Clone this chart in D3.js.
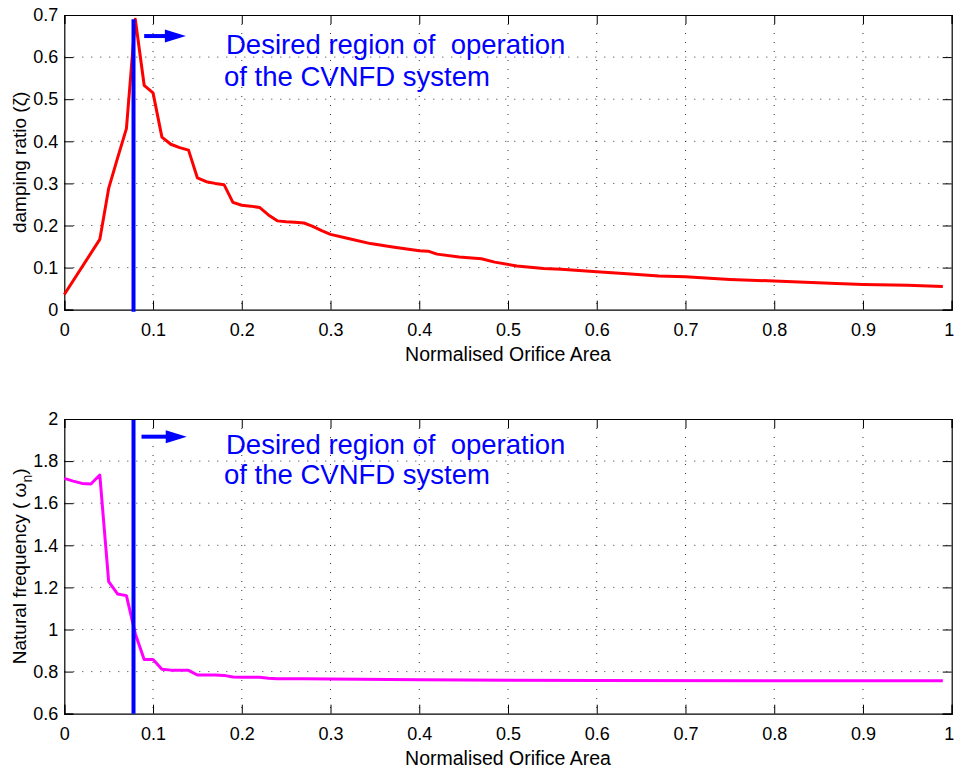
<!DOCTYPE html>
<html>
<head>
<meta charset="utf-8">
<script src="https://cdn.jsdelivr.net/npm/d3@7"></script>
<style>
  body { margin: 0; background: #fff; }
  svg { display: block; font-family: "Liberation Sans", Arial, sans-serif; }
</style>
</head>
<body>
<div id="chart"></div>
<script>
// damping ratio vs normalised orifice area (top panel)
const areaTop = [0, 0.04, 0.05, 0.06, 0.07, 0.08, 0.09, 0.10, 0.11, 0.12, 0.13, 0.14, 0.15, 0.16, 0.17, 0.18,
  0.19, 0.20, 0.21, 0.22, 0.23, 0.24, 0.25, 0.26, 0.27, 0.28, 0.29, 0.30, 0.32, 0.345, 0.37, 0.40, 0.41, 0.42,
  0.445, 0.47, 0.485, 0.51, 0.54, 0.56, 0.60, 0.63, 0.67, 0.70, 0.75, 0.80, 0.87, 0.90, 0.95, 0.99];
const dampingRatio = [0.036, 0.167, 0.288, 0.36, 0.43, 0.69, 0.533, 0.515, 0.41, 0.393, 0.385, 0.379, 0.313, 0.304,
  0.300, 0.297, 0.255, 0.248, 0.246, 0.243, 0.225, 0.211, 0.209, 0.208, 0.206, 0.198, 0.188, 0.179, 0.169, 0.157,
  0.149, 0.140, 0.139, 0.132, 0.125, 0.121, 0.113, 0.104, 0.098, 0.096, 0.090, 0.086, 0.080, 0.078, 0.072, 0.068,
  0.062, 0.060, 0.058, 0.055];

// natural frequency (bottom panel)
const areaBottom = [0, 0.01, 0.02, 0.03, 0.04, 0.05, 0.06, 0.07, 0.08, 0.09, 0.10, 0.11, 0.12, 0.13, 0.14, 0.15,
  0.16, 0.17, 0.18, 0.19, 0.20, 0.21, 0.22, 0.23, 0.24, 0.27, 0.30, 0.40, 0.50, 0.60, 0.80, 0.99];
const naturalFreq = [1.718, 1.705, 1.694, 1.691, 1.734, 1.227, 1.169, 1.161, 0.98, 0.858, 0.858, 0.811, 0.807,
  0.806, 0.806, 0.784, 0.784, 0.784, 0.782, 0.774, 0.773, 0.773, 0.773, 0.768, 0.766, 0.766, 0.765, 0.761, 0.759,
  0.7575, 0.756, 0.756];

// ticks
const xTicks = [0, 0.1, 0.2, 0.3, 0.4, 0.5, 0.6, 0.7, 0.8, 0.9, 1];
const xTickLabels = ["0", "0.1", "0.2", "0.3", "0.4", "0.5", "0.6", "0.7", "0.8", "0.9", "1"];
const yTicksTop = [0, 0.1, 0.2, 0.3, 0.4, 0.5, 0.6, 0.7];
const yTickLabelsTop = ["0", "0.1", "0.2", "0.3", "0.4", "0.5", "0.6", "0.7"];
const yTicksBottom = [0.6, 0.8, 1, 1.2, 1.4, 1.6, 1.8, 2];
const yTickLabelsBottom = ["0.6", "0.8", "1", "1.2", "1.4", "1.6", "1.8", "2"];

const operatingArea = 0.078;

const width = 954, height = 769;
const svg = d3.select("#chart").append("svg")
  .attr("width", width)
  .attr("height", height);

const left = 64.3, right = 951.7;
const tickLen = 9;

let drawPanel = (p) => {
  const x = d3.scaleLinear().domain([0, 1]).range([left, right]);
  const y = d3.scaleLinear().domain(p.yDomain).range([p.bottom, p.top]);
  const g = svg.append("g");

  // dotted grid
  g.append("g").selectAll("line.gx")
    .data(xTicks.slice(1, -1))
    .join("line")
    .attr("x1", d => x(d)).attr("x2", d => x(d))
    .attr("y1", p.top).attr("y2", p.bottom)
    .attr("stroke", "#333").attr("stroke-width", 1)
    .attr("stroke-dasharray", "1,8");
  g.append("g").selectAll("line.gy")
    .data(p.yTicks.slice(1, -1))
    .join("line")
    .attr("x1", left).attr("x2", right)
    .attr("y1", d => y(d)).attr("y2", d => y(d))
    .attr("stroke", "#333").attr("stroke-width", 1)
    .attr("stroke-dasharray", "1,8");

  // axes with inward ticks on all four sides
  const fmtX = (d, i) => xTickLabels[i];
  const fmtY = (d, i) => p.yLabels[i];

  const ax = g.append("g")
    .attr("transform", `translate(0,${p.bottom})`)
    .call(d3.axisBottom(x).tickValues(xTicks).tickFormat(fmtX).tickSize(-tickLen).tickPadding(14));
  g.append("g")
    .attr("transform", `translate(0,${p.top})`)
    .call(d3.axisTop(x).tickValues(xTicks).tickFormat("").tickSize(-tickLen));
  g.append("g")
    .attr("transform", `translate(${left},0)`)
    .call(d3.axisLeft(y).tickValues(p.yTicks).tickFormat(fmtY).tickSize(-tickLen).tickPadding(6));
  g.append("g")
    .attr("transform", `translate(${right},0)`)
    .call(d3.axisRight(y).tickValues(p.yTicks).tickFormat("").tickSize(-tickLen));

  g.selectAll(".domain").attr("stroke", "#000").attr("stroke-width", 1.2);
  g.selectAll(".tick line").attr("stroke", "#000");
  g.selectAll(".tick text")
    .attr("font-family", "'Liberation Sans', Arial, sans-serif")
    .attr("font-size", 18)
    .attr("fill", "#000");
  ax.selectAll(".tick text").attr("dy", "0.71em");
  ax.selectAll(".tick text").filter(d => d === 1).attr("dx", -3);

  // data line
  const line = d3.line().x(d => x(d[0])).y(d => y(d[1]));
  g.append("path")
    .datum(d3.zip(p.xs, p.ys))
    .attr("fill", "none")
    .attr("stroke", p.color)
    .attr("stroke-width", 3)
    .attr("stroke-linejoin", "round")
    .attr("d", line);

  // operating boundary
  g.append("line")
    .attr("x1", x(operatingArea)).attr("x2", x(operatingArea))
    .attr("y1", y(p.vline[0])).attr("y2", y(p.vline[1]))
    .attr("stroke", "#0000ff").attr("stroke-width", 4);

  // arrow
  const ay0 = y(p.arrowY);
  const xa = x(p.arrowX[0]), xb = x(p.arrowX[1]);
  g.append("line")
    .attr("x1", xa).attr("x2", xb - 18)
    .attr("y1", ay0).attr("y2", ay0)
    .attr("stroke", "#0000ff").attr("stroke-width", 4);
  g.append("path")
    .attr("d", `M${xb},${ay0} L${xb - 21},${ay0 - 6.5} L${xb - 21},${ay0 + 6.5} Z`)
    .attr("fill", "#0000ff");

  // annotation
  const t = g.append("text")
    .attr("fill", "#0000ff")
    .attr("font-size", 27.5);
  t.append("tspan").attr("x", p.noteX).attr("y", p.noteY[0]).text("Desired region of\u00a0 operation");
  t.append("tspan").attr("x", p.noteX - 2).attr("y", p.noteY[1]).text("of the CVNFD system");

  // axis labels
  g.append("text")
    .attr("x", (left + right) / 2)
    .attr("y", p.bottom + 51)
    .attr("text-anchor", "middle")
    .attr("font-size", 19.5)
    .text("Normalised Orifice Area");

  return { g, x, y };
};

const topPanel = drawPanel({
  top: 15, bottom: 309.7,
  yDomain: [0, 0.7], yTicks: yTicksTop, yLabels: yTickLabelsTop,
  xs: areaTop, ys: dampingRatio, color: "#ff0000",
  vline: [-0.005, 0.69],
  arrowX: [0.090, 0.137], arrowY: 0.650,
  noteX: 226, noteY: [54, 86]
});
topPanel.g.append("text")
  .attr("transform", `translate(26,${(15 + 309.7) / 2}) rotate(-90)`)
  .attr("text-anchor", "middle")
  .attr("font-size", 19)
  .text("damping ratio (\u03b6)");

const bottomPanel = drawPanel({
  top: 419, bottom: 713.7,
  yDomain: [0.6, 2], yTicks: yTicksBottom, yLabels: yTickLabelsBottom,
  xs: areaBottom, ys: naturalFreq, color: "#ff00ff",
  vline: [0.6, 1.995],
  arrowX: [0.087, 0.138], arrowY: 1.916,
  noteX: 226, noteY: [454, 484]
});
const yl = bottomPanel.g.append("text")
  .attr("transform", `translate(26,${(419 + 713.7) / 2}) rotate(-90)`)
  .attr("text-anchor", "middle")
  .attr("font-size", 19);
yl.append("tspan").text("Natural frequency ( \u03c9");
yl.append("tspan").attr("dy", 6).attr("font-size", 14).text("n");
yl.append("tspan").attr("dy", -6).text(")");
</script>
</body>
</html>
